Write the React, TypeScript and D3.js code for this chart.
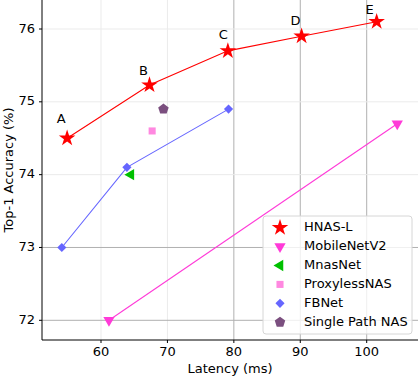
import React from 'react';
import * as d3 from 'd3';

const hnasLatency = [54.9, 67.3, 79.1, 90.2, 101.5];
const hnasAccuracy = [74.5, 75.23, 75.7, 75.9, 76.1];
const hnasLabels = ['A', 'B', 'C', 'D', 'E'];
// label offsets in px from the marker
const labelDx = [-6, -6, -4.5, -6, -7];
const labelDy = [-19, -13.5, -15, -15, -11.5];

const mobileLatency = [61.2, 104.6];
const mobileAccuracy = [72.0, 74.7];

const mnasLatency = [64.5];
const mnasAccuracy = [74.0];

const proxylessLatency = [67.7];
const proxylessAccuracy = [74.6];

const fbnetLatency = [54.1, 63.9, 79.2];
const fbnetAccuracy = [73.0, 74.1, 74.9];

const singlePathLatency = [69.4];
const singlePathAccuracy = [74.9];

const xTicks = [60, 70, 80, 90, 100];
const yTicks = [72, 73, 74, 75, 76];
const legendNames = ['HNAS-L', 'MobileNetV2', 'MnasNet', 'ProxylessNAS', 'FBNet', 'Single Path NAS'];

const W = 418;
const H = 376;
const font = 'DejaVu Sans, sans-serif';

const pentagon = (r: number) => {
    const pts: [number, number][] = d3.range(5).map(i => {
        const a = -Math.PI / 2 + (i * 2 * Math.PI) / 5;
        return [r * Math.cos(a), r * Math.sin(a)];
    });
    return d3.line()(pts) + 'Z';
};

const markerPath = (kind: string) => {
    switch (kind) {
        case 'star': return d3.symbol(d3.symbolStar, 85)() as string;
        case 'tri': return d3.symbol(d3.symbolTriangle, 55)() as string;
        case 'square': return d3.symbol(d3.symbolSquare, 50)() as string;
        case 'diamond': return d3.symbol(d3.symbolSquare, 42)() as string;
        default: return pentagon(5.5);
    }
};

const series = [
    { name: legendNames[0], xs: hnasLatency, ys: hnasAccuracy, color: '#ff0000', kind: 'star', rot: 0, line: true },
    { name: legendNames[1], xs: mobileLatency, ys: mobileAccuracy, color: '#ff3ad8', kind: 'tri', rot: 180, line: true },
    { name: legendNames[2], xs: mnasLatency, ys: mnasAccuracy, color: '#00c000', kind: 'tri', rot: -90, line: false },
    { name: legendNames[3], xs: proxylessLatency, ys: proxylessAccuracy, color: '#ff88e0', kind: 'square', rot: 0, line: false },
    { name: legendNames[4], xs: fbnetLatency, ys: fbnetAccuracy, color: '#6666ff', kind: 'diamond', rot: 45, line: true },
    { name: legendNames[5], xs: singlePathLatency, ys: singlePathAccuracy, color: '#7b4f7f', kind: 'pent', rot: 0, line: false },
];

const App = () => {
    const x = d3.scaleLinear().domain([60, 100]).range([101, 366.7]);
    const y = d3.scaleLinear().domain([72, 76]).range([320.3, 29]);
    const left = 42;
    const bottom = 340;
    const right = W;
    const top = 0;

    const lineGen = d3.line<[number, number]>().x(d => x(d[0])).y(d => y(d[1]));

    const lx = 263, ly = 216, lw = 149, lh = 118;

    return (
        <svg width={W} height={H} style={{ position: 'absolute', left: 0, top: 0, background: '#fff' }} fontFamily={font}>
            {/* grid */}
            {xTicks.map(t => (
                <line key={'gx' + t} x1={x(t)} x2={x(t)} y1={top} y2={bottom}
                    stroke={t >= 80 ? '#b0b0b0' : '#ebebeb'} strokeWidth={1} />
            ))}
            {yTicks.map(t => (
                <line key={'gy' + t} x1={left} x2={right} y1={y(t)} y2={y(t)}
                    stroke={t <= 73 ? '#b0b0b0' : '#ebebeb'} strokeWidth={1} />
            ))}

            {/* series */}
            {series.map(s => (
                <g key={s.name}>
                    {s.line && (
                        <path d={lineGen(s.xs.map((v, i) => [v, s.ys[i]] as [number, number])) as string}
                            fill="none" stroke={s.color} strokeWidth={1.1} />
                    )}
                    {s.xs.map((v, i) => (
                        <path key={i} d={markerPath(s.kind)} fill={s.color}
                            transform={`translate(${x(v)},${y(s.ys[i])}) rotate(${s.rot})`} />
                    ))}
                </g>
            ))}

            {hnasLabels.map((l, i) => (
                <text key={l} x={x(hnasLatency[i]) + labelDx[i]} y={y(hnasAccuracy[i]) + labelDy[i]}
                    fontSize={13} textAnchor="middle" dominantBaseline="middle" fill="#000">{l}</text>
            ))}

            {/* spines */}
            <line x1={left} x2={left} y1={top} y2={bottom} stroke="#000" strokeWidth={1} />
            <line x1={left} x2={right} y1={bottom} y2={bottom} stroke="#000" strokeWidth={1} />

            {/* ticks */}
            {xTicks.map(t => (
                <g key={'xt' + t}>
                    <line x1={x(t)} x2={x(t)} y1={bottom} y2={bottom + 3} stroke="#000" />
                    <text x={x(t)} y={352} fontSize={13} textAnchor="middle" dominantBaseline="middle">{t}</text>
                </g>
            ))}
            {yTicks.map(t => (
                <g key={'yt' + t}>
                    <line x1={left - 3} x2={left} y1={y(t)} y2={y(t)} stroke="#000" />
                    <text x={35} y={y(t)} fontSize={13} textAnchor="end" dominantBaseline="middle">{t}</text>
                </g>
            ))}

            <text x={230} y={369} fontSize={13} textAnchor="middle" dominantBaseline="middle">Latency (ms)</text>
            <text transform={`translate(9,170) rotate(-90)`} fontSize={13} textAnchor="middle" dominantBaseline="middle">Top-1 Accuracy (%)</text>

            {/* legend */}
            <rect x={lx} y={ly} width={lw} height={lh} rx={3} fill="#fff" fillOpacity={0.8} stroke="#d6d6d6" />
            {series.map((s, i) => (
                <g key={'lg' + s.name} transform={`translate(${lx + 17},${ly + 11.7 + i * 18.9})`}>
                    <path d={markerPath(s.kind)} fill={s.color} transform={`rotate(${s.rot})`} />
                    <text x={24} y={0} fontSize={13} dominantBaseline="middle">{s.name}</text>
                </g>
            ))}
        </svg>
    );
};

export default App;
